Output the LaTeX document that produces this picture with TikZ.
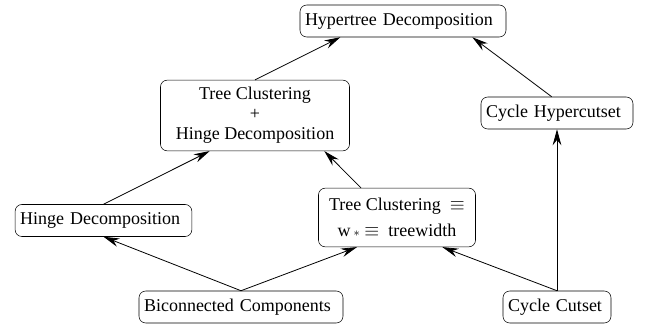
\documentclass[tikz,border=0pt]{standalone}
\usepackage{fontspec}
\setmainfont{Liberation Serif}
\usetikzlibrary{arrows.meta}

\begin{document}
\begin{tikzpicture}[x=0.75pt, y=-0.75pt,
  box/.style={draw=black, rounded corners=5pt, thin, inner xsep=3.75pt, inner ysep=2pt, minimum height=24pt, font=\fontsize{13.5}{16}\selectfont},
  link/.style={-{Stealth[length=12pt, width=6.5pt, inset=4pt]}, line width=0.6pt}]
\useasboundingbox (0,0) rectangle (647,327);
\node[box, text width=147pt, align=left] (HT) at (403, 21) {Hypertree Decomposition};
\node[box, align=center, minimum width=141.75pt, minimum height=53pt] (TCHD) at (255, 115.5) {Tree Clustering\\[-1pt] +\\[-1pt] Hinge Decomposition};
\node[box, text width=106.5pt, align=left] (CH) at (557, 113) {Cycle Hypercutset};
\node[box, text width=125pt, align=left] (HD) at (103.5, 220.5) {Hinge Decomposition};
\node[box, align=center, minimum width=117.75pt, minimum height=44pt] (TCEQ) at (397, 217.5) {Tree Clustering~~$\equiv$\\[3pt] w\,{\small$\ast$}~$\equiv$~~treewidth};
\node[box, text width=145.5pt, align=left] (BC) at (241, 307) {Biconnected Components};
\node[box, text width=73.5pt, align=left] (CC) at (557, 307) {Cycle Cutset};
\path [link] (BC.north) edge (HD.south);
\path [link] (BC.north) edge ([xshift=-30pt]TCEQ.south);
\path [link] (CC.north) edge ([xshift=34pt]TCEQ.south);
\path [link] (CC.north) edge (CH.south);
\path [link] (HD.north) edge ([xshift=-34pt]TCHD.south);
\path [link] ([xshift=-27pt]TCEQ.north) edge ([xshift=52pt]TCHD.south);
\path [link] (TCHD.north) edge ([xshift=-47pt]HT.south);
\path [link] ([xshift=-4pt]CH.north) edge ([xshift=52pt]HT.south);
\end{tikzpicture}
\end{document}
